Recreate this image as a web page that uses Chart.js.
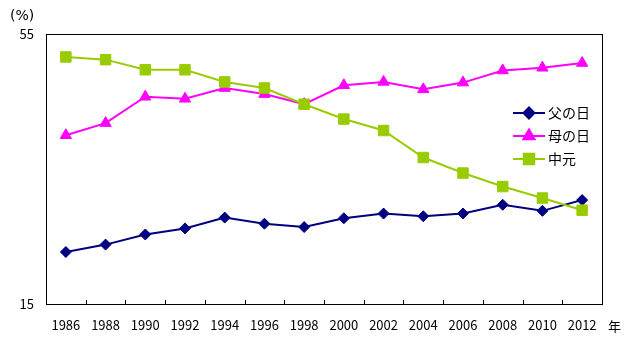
<!DOCTYPE html>
<html>
<head>
<meta charset="utf-8">
<script src="https://cdn.jsdelivr.net/npm/chart.js@4/dist/chart.umd.min.js"></script>
<style>
html,body{margin:0;padding:0;background:#fff;}
#wrap{width:635px;height:353px;position:relative;}
</style>
</head>
<body>
<div id="wrap"><canvas id="c" width="635" height="353"></canvas></div>
<script>
const years = ['1986','1988','1990','1992','1994','1996','1998','2000','2002','2004','2006','2008','2010','2012'];
const fathersDay = [22.7, 23.8, 25.3, 26.2, 27.8, 26.9, 26.4, 27.7, 28.4, 28.0, 28.4, 29.7, 28.8, 30.4];
const mothersDay = [40.0, 41.8, 45.7, 45.4, 47.0, 46.1, 44.6, 47.4, 47.9, 46.8, 47.8, 49.6, 50.0, 50.7];
const chugen     = [51.6, 51.2, 49.7, 49.7, 47.9, 47.0, 44.6, 42.4, 40.7, 36.7, 34.4, 32.4, 30.7, 28.9];
const yTicks = [15, 55];
const seriesNames = ['父の日', '母の日', '中元'];
const unitLabel = '(%)';
const xUnitLabel = '年';

const FONT = '"Noto Sans CJK JP", "Noto Sans", sans-serif';

const extras = {
  id: 'extras',
  afterDraw(chart) {
    const ctx = chart.ctx;
    const a = chart.chartArea;
    const xs = chart.scales.x;
    ctx.save();
    // frame
    ctx.strokeStyle = '#000';
    ctx.lineWidth = 1;
    ctx.strokeRect(Math.round(a.left) + 0.5, Math.round(a.top) + 0.5, Math.round(a.right - a.left), Math.round(a.bottom - a.top));
    // inward ticks between categories
    ctx.beginPath();
    for (let i = 1; i < years.length; i++) {
      const x = Math.round((xs.getPixelForValue(i - 1) + xs.getPixelForValue(i)) / 2) + 0.5;
      ctx.moveTo(x, a.bottom);
      ctx.lineTo(x, a.bottom - 4);
    }
    ctx.stroke();
    // unit labels
    ctx.fillStyle = '#000';
    ctx.textBaseline = 'middle';
    ctx.textAlign = 'left';
    ctx.font = '14px "DejaVu Sans", sans-serif';
    ctx.fillText(unitLabel, 10, 16);
    ctx.font = '13px ' + FONT;
    ctx.fillText(xUnitLabel, 608, 326);
    // legend
    const rows = [113, 136, 159];
    chart.data.datasets.forEach((ds, i) => {
      const y = rows[i];
      ctx.strokeStyle = ds.borderColor;
      ctx.lineWidth = 2;
      ctx.beginPath();
      ctx.moveTo(513, y);
      ctx.lineTo(545, y);
      ctx.stroke();
      Chart.helpers.drawPoint(ctx, {pointStyle: ds.pointStyle, radius: ds.pointRadius, rotation: 0, borderWidth: 1}, 529, y);
      ctx.fillStyle = ds.backgroundColor;
      ctx.strokeStyle = ds.borderColor;
      ctx.lineWidth = 1;
      ctx.fill();
      ctx.stroke();
      ctx.fillStyle = '#000';
      ctx.font = '14px ' + FONT;
      ctx.textAlign = 'left';
      ctx.fillText(ds.label, 548, y);
    });
    ctx.restore();
  }
};

new Chart(document.getElementById('c'), {
  type: 'line',
  data: {
    labels: years,
    datasets: [
      {label: seriesNames[0], data: fathersDay, borderColor: '#000080', backgroundColor: '#000080',
       pointStyle: 'rectRot', pointRadius: 5.5, borderWidth: 2, pointBorderWidth: 1, order: 2},
      {label: seriesNames[1], data: mothersDay, borderColor: '#FF00FF', backgroundColor: '#FF00FF',
       pointStyle: 'triangle', pointRadius: 6.5, borderWidth: 2, pointBorderWidth: 1, order: 1},
      {label: seriesNames[2], data: chugen, borderColor: '#99CC00', backgroundColor: '#99CC00',
       pointStyle: 'rect', pointRadius: 7.4, borderWidth: 2, pointBorderWidth: 1, order: 0}
    ]
  },
  options: {
    responsive: false,
    animation: false,
    devicePixelRatio: 1,
    layout: {padding: {top: 34, right: 33, left: 0, bottom: 0}},
    plugins: {legend: {display: false}, tooltip: {enabled: false}},
    elements: {line: {tension: 0}},
    scales: {
      x: {
        type: 'category',
        offset: true,
        grid: {display: false, drawTicks: false},
        border: {display: true, color: '#000', width: 1},
        ticks: {color: '#000', font: {family: FONT, size: 13}, padding: 13, maxRotation: 0, autoSkip: false},
        afterFit(s) { s.height = 49; }
      },
      y: {
        min: 15, max: 55,
        grid: {display: false, drawTicks: false},
        border: {display: true, color: '#000', width: 1},
        ticks: {color: '#000', font: {family: FONT, size: 13}, padding: 12},
        afterBuildTicks(s) { s.ticks = yTicks.map(v => ({value: v})); },
        afterFit(s) { s.width = 46; }
      }
    }
  },
  plugins: [extras]
});
</script>
</body>
</html>
